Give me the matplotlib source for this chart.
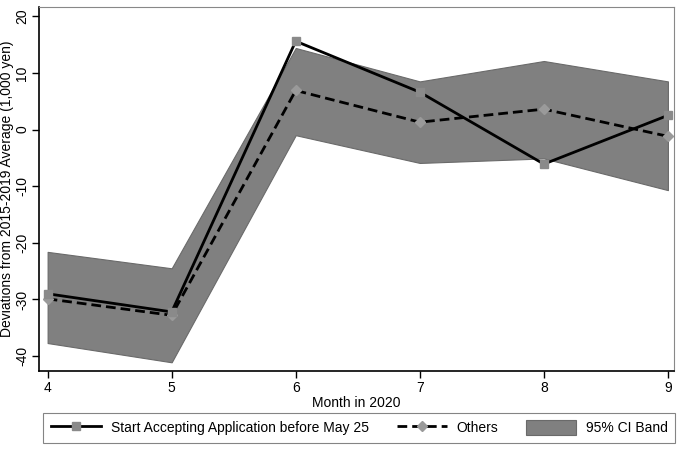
import matplotlib
matplotlib.use("Agg")
import matplotlib.pyplot as plt
from matplotlib.patches import Patch
from matplotlib.lines import Line2D

plt.rcParams['font.family'] = ['Liberation Sans', 'DejaVu Sans']
plt.rcParams['axes.unicode_minus'] = False

months = [4, 5, 6, 7, 8, 9]
early = [-29.0, -32.2, 15.6, 6.6, -6.1, 2.5]
others = [-29.9, -32.8, 6.9, 1.3, 3.6, -1.2]
ci_upper = [-21.6, -24.5, 14.4, 8.5, 12.1, 8.5]
ci_lower = [-37.7, -41.1, -1.0, -5.9, -5.1, -10.7]

fig = plt.figure(figsize=(6.83, 4.5), dpi=100)
ax = fig.add_axes([0.057, 0.176, 0.930, 0.808])

ax.fill_between(months, ci_lower, ci_upper, facecolor='#808080',
                edgecolor='#6a6a6a', linewidth=0.8, zorder=1)
ax.plot(months, early, color='black', lw=2.0, marker='s', ms=6,
        mfc='#8a8a8a', mec='#8a8a8a', zorder=3)
ax.plot(months, others, color='black', lw=2.0, ls=(0, (3.5, 1.8)), marker='D',
        ms=5, mfc='#9a9a9a', mec='#9a9a9a', zorder=2)

ax.set_xlim(3.93, 9.05)
ax.set_ylim(-42.6, 21.6)
ax.set_xticks(months)
ax.set_yticks([-40, -30, -20, -10, 0, 10, 20])
ax.tick_params(axis='both', direction='out', length=5, width=1, labelsize=10, pad=2)
for lab in ax.get_yticklabels():
    lab.set_rotation(90)
    lab.set_va('center')
ax.set_xlabel('Month in 2020', fontsize=10, labelpad=1)
ax.set_ylabel('Deviations from 2015-2019 Average (1,000 yen)', fontsize=10, labelpad=1)

# Stata-like frame: dark left/bottom axes, thin gray plot-region box
for side in ['top', 'right']:
    ax.spines[side].set_color('#888888')
    ax.spines[side].set_linewidth(0.8)
for side in ['left', 'bottom']:
    ax.spines[side].set_color('black')
    ax.spines[side].set_linewidth(1.2)

handles = [
    Line2D([], [], color='black', lw=2.0, marker='s', ms=6, mfc='#8a8a8a', mec='#8a8a8a'),
    Line2D([], [], color='black', lw=2.0, ls=(0, (3.5, 1.8)), marker='D', ms=5,
           mfc='#9a9a9a', mec='#9a9a9a'),
    Patch(facecolor='#808080', edgecolor='#6a6a6a', linewidth=0.8),
]
labels = ['Start Accepting Application before May 25', 'Others', '95% CI Band']
leg = fig.legend(handles, labels, loc='lower center', ncol=3,
                 bbox_to_anchor=(0.526, 0.016),
                 fontsize=10, frameon=True, fancybox=False, handlelength=3.6,
                 handleheight=1.2, handletextpad=0.7, borderaxespad=0,
                 borderpad=0.55, columnspacing=2.0)
leg.get_frame().set_edgecolor('#666666')
leg.get_frame().set_linewidth(0.8)

fig.savefig('out.png', dpi=100)
